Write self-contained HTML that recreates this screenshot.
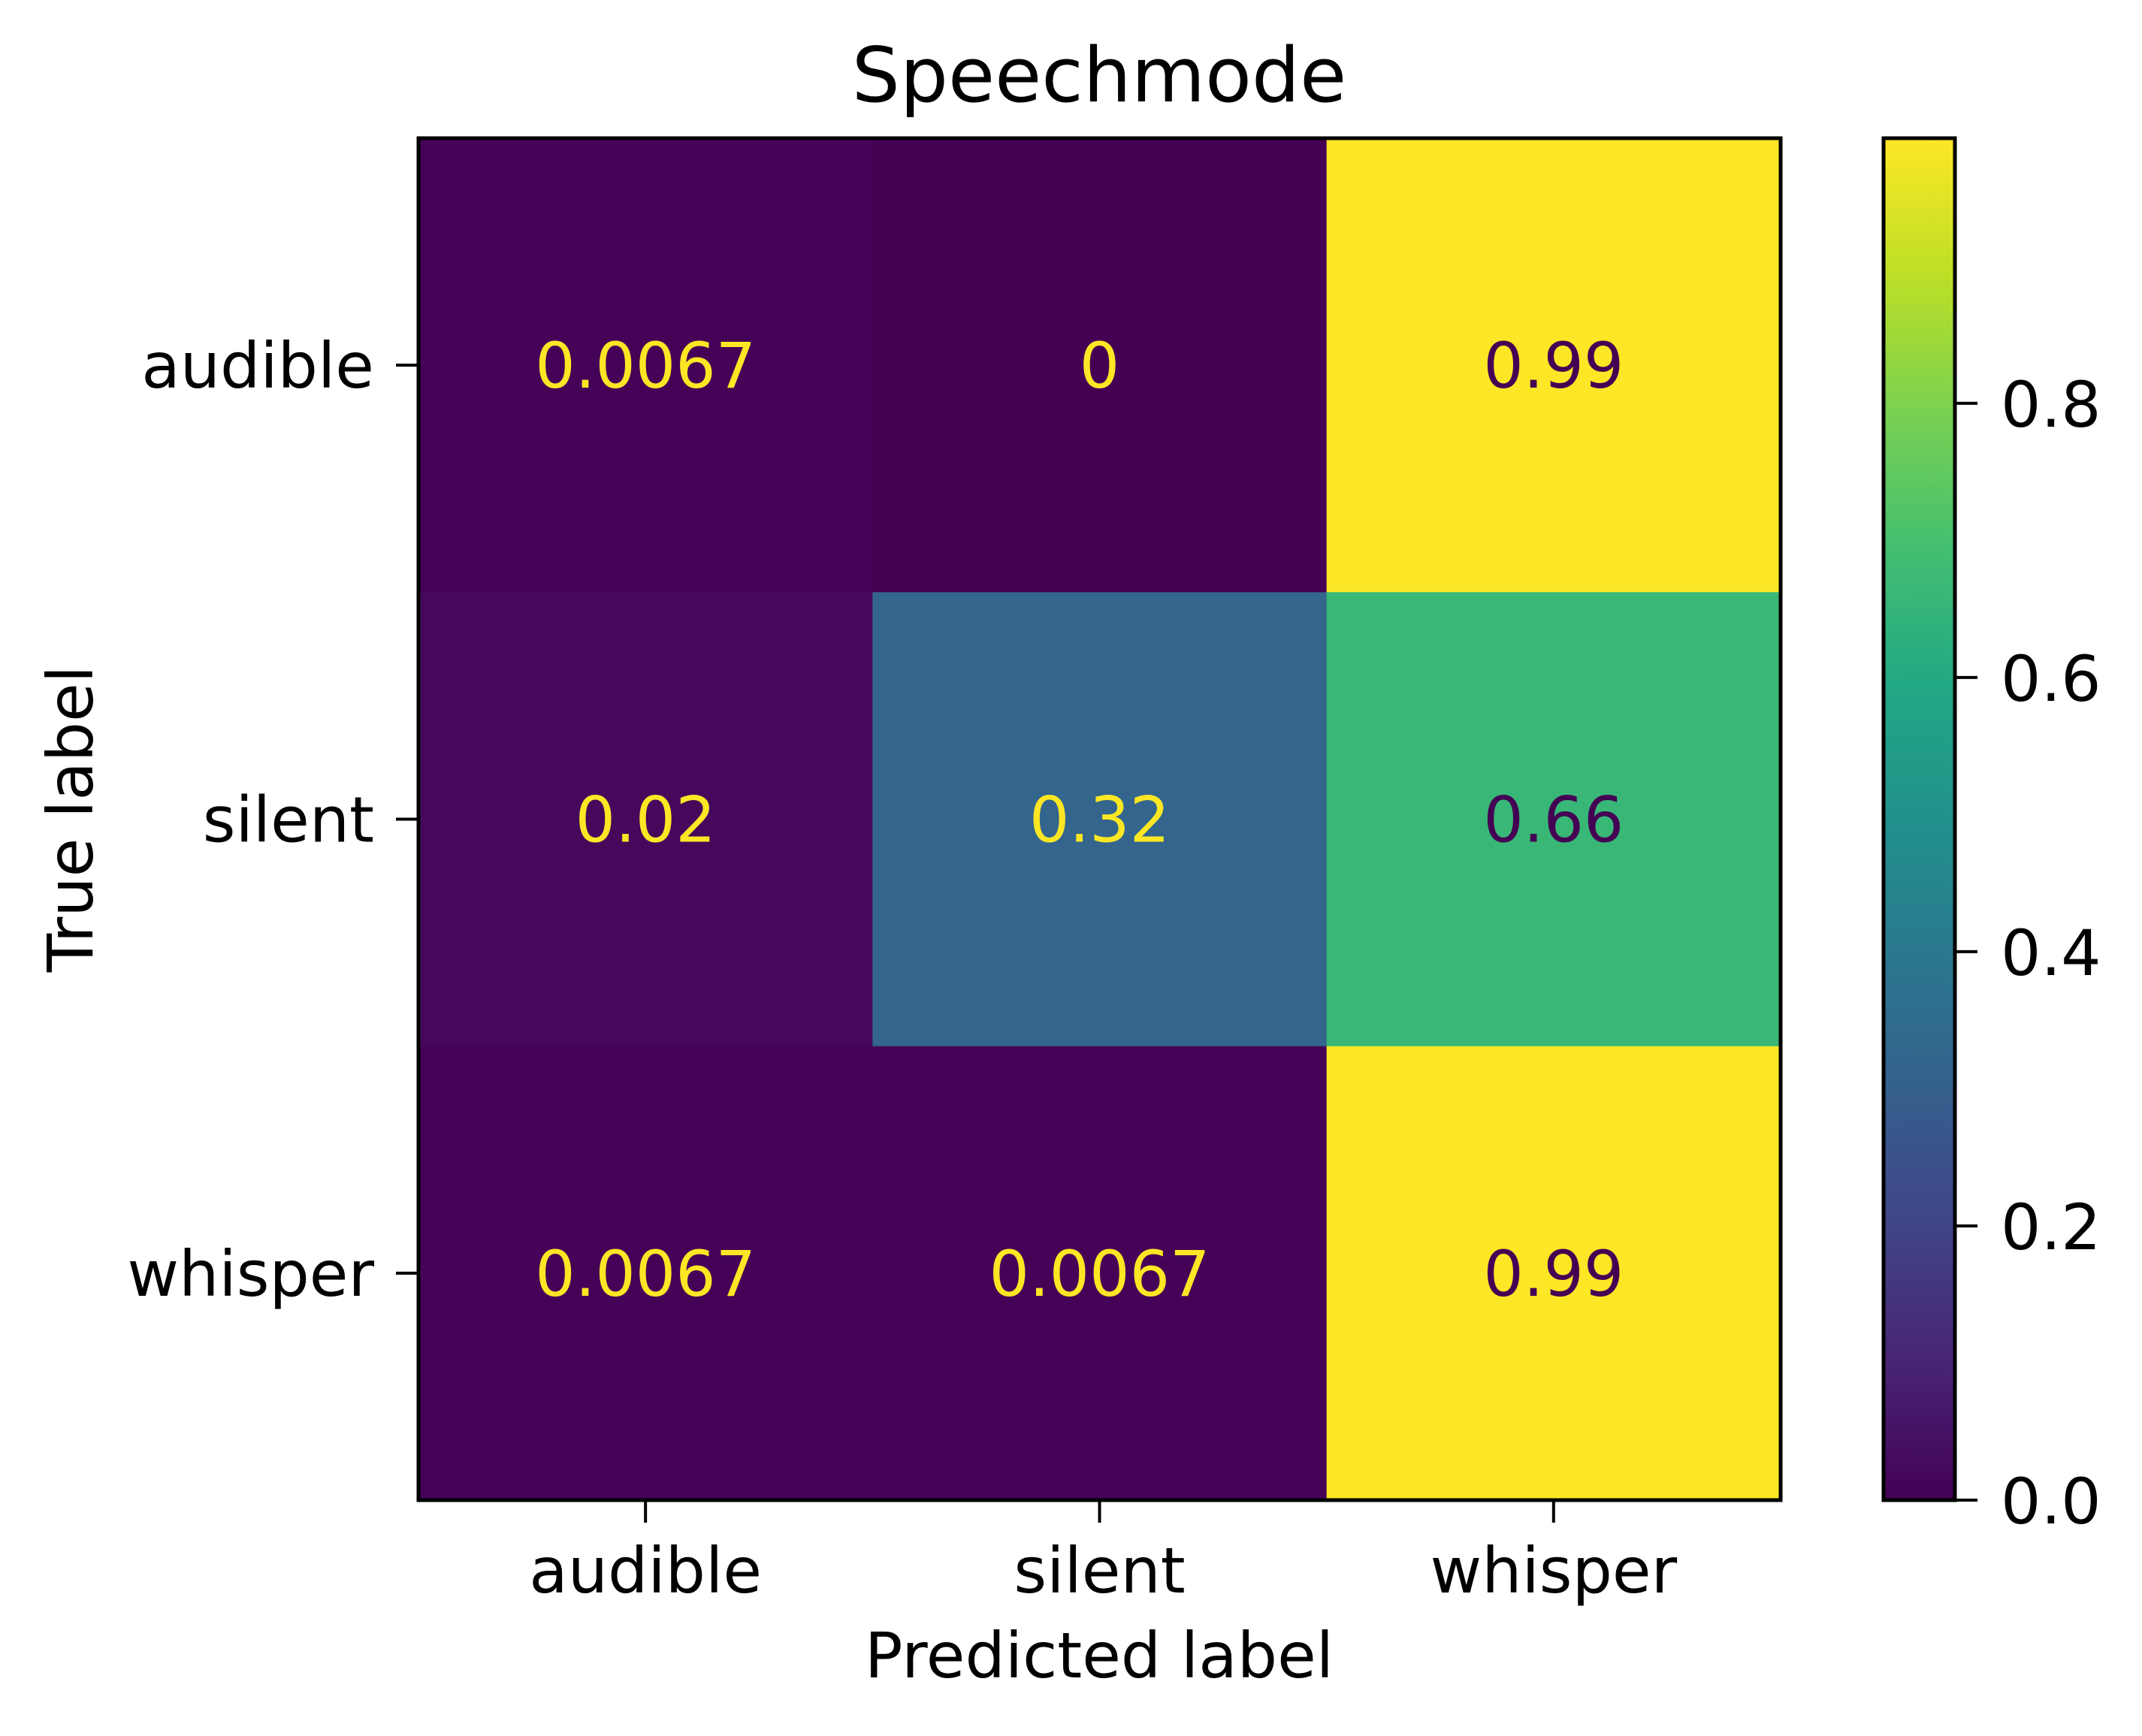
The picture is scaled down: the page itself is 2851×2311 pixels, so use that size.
<!DOCTYPE html>
<html><head><meta charset="utf-8"><style>
html,body{margin:0;padding:0;background:#fff;}
svg{display:block;font-family:"DejaVu Sans","Liberation Sans",sans-serif;}
</style></head><body>
<svg id="chart" width="2851" height="2311" viewBox="0 0 2851 2311" xmlns="http://www.w3.org/2000/svg">
<defs>
<linearGradient id="vir" x1="0" y1="1" x2="0" y2="0">
<stop offset="0" stop-color="#440154"/><stop offset="0.1" stop-color="#482475"/><stop offset="0.2" stop-color="#414487"/><stop offset="0.3" stop-color="#355f8d"/><stop offset="0.4" stop-color="#2a788e"/><stop offset="0.5" stop-color="#21918c"/><stop offset="0.6" stop-color="#22a884"/><stop offset="0.7" stop-color="#44bf70"/><stop offset="0.8" stop-color="#7ad151"/><stop offset="0.9" stop-color="#bddf26"/><stop offset="1" stop-color="#fde725"/>
</linearGradient>
</defs>
<text x="1463" y="135" font-size="101" text-anchor="middle">Speechmode</text>
<g id="cells"></g>
<rect x="557" y="184" width="1813" height="1813" fill="none" stroke="#000" stroke-width="5"/>
<g id="ticks"></g>
<text x="1463" y="2233" font-size="84" text-anchor="middle">Predicted label</text>
<text transform="translate(123,1090) rotate(-90)" font-size="84" text-anchor="middle">True label</text>
<rect x="2507" y="184" width="95" height="1813" fill="url(#vir)" stroke="#000" stroke-width="5"/>
<g id="cbticks"></g>
</svg>
<script>
const categories = ["audible","silent","whisper"];
const row0 = [0.0067, 0, 0.99];
const row1 = [0.02, 0.32, 0.66];
const row2 = [0.0067, 0.0067, 0.99];
const cellLabels0 = ["0.0067","0","0.99"];
const cellLabels1 = ["0.02","0.32","0.66"];
const cellLabels2 = ["0.0067","0.0067","0.99"];
const cbTicks = [0.0, 0.2, 0.4, 0.6, 0.8];
const cbTickLabels = ["0.0","0.2","0.4","0.6","0.8"];
const vmin = 0, vmax = 0.9933;

const NS = "http://www.w3.org/2000/svg";
const L = 557, T = 184, S = 1813, n = categories.length, cw = S / n;
const xPos = i => L + cw * i;
const yPos = i => T + cw * i;
const cbY = v => 1997 - (v - vmin) / (vmax - vmin) * 1813;
const stops = ["#440154","#482475","#414487","#355f8d","#2a788e","#21918c","#22a884","#44bf70","#7ad151","#bddf26","#fde725"];
function hex(h){return [1,3,5].map(i=>parseInt(h.substr(i,2),16));}
function viridis(v){
  let t = Math.max(0, Math.min(1, (v - vmin) / (vmax - vmin))) * 10;
  let i = Math.min(9, Math.floor(t)), f = t - i;
  const a = hex(stops[i]), b = hex(stops[i+1]);
  return "rgb(" + a.map((c,k)=>Math.round(c + (b[k]-c)*f)).join(",") + ")";
}
function mk(tag, attrs, parent){const e=document.createElementNS(NS,tag);for(const k in attrs)e.setAttribute(k,attrs[k]);parent.appendChild(e);return e;}
const cells = document.getElementById("cells");
const rows = [row0,row1,row2], labs = [cellLabels0,cellLabels1,cellLabels2];
rows.forEach((row, r) => row.forEach((v, c) => {
  const rect = mk("rect", {x: xPos(c), y: yPos(r), width: cw + 0.5, height: cw + 0.5, fill: viridis(v)}, cells);
  
  
  const txt = mk("text", {x: xPos(c) + cw/2, y: yPos(r) + cw/2 + 30, "font-size": 84, "text-anchor": "middle", fill: v > (vmin+vmax)/2 ? "#440154" : "#fde725"}, cells);
  txt.textContent = labs[r][c];
  
  
}));
const ticks = document.getElementById("ticks");
categories.forEach((cat, i) => {
  const cx = xPos(i) + cw/2, cy = yPos(i) + cw/2;
  const t1 = mk("line", {x1: cx, y1: 1997, x2: cx, y2: 2027, stroke: "#000", "stroke-width": 4}, ticks);
  
  
  const l1 = mk("text", {x: cx, y: 2120, "font-size": 84, "text-anchor": "middle"}, ticks);
  l1.textContent = cat;
  
  
  const t2 = mk("line", {x1: 527, y1: cy, x2: 557, y2: cy, stroke: "#000", "stroke-width": 4}, ticks);
  
  
  const l2 = mk("text", {x: 498, y: cy + 30, "font-size": 84, "text-anchor": "end"}, ticks);
  l2.textContent = cat;
  
  
});
const cbt = document.getElementById("cbticks");
cbTicks.forEach((v, i) => {
  const y = cbY(v);
  const t = mk("line", {x1: 2602, y1: y, x2: 2632, y2: y, stroke: "#000", "stroke-width": 4}, cbt);
  
  
  const l = mk("text", {x: 2663, y: y + 31, "font-size": 84}, cbt);
  l.textContent = cbTickLabels[i];
  
  
});
</script>
</body></html>
